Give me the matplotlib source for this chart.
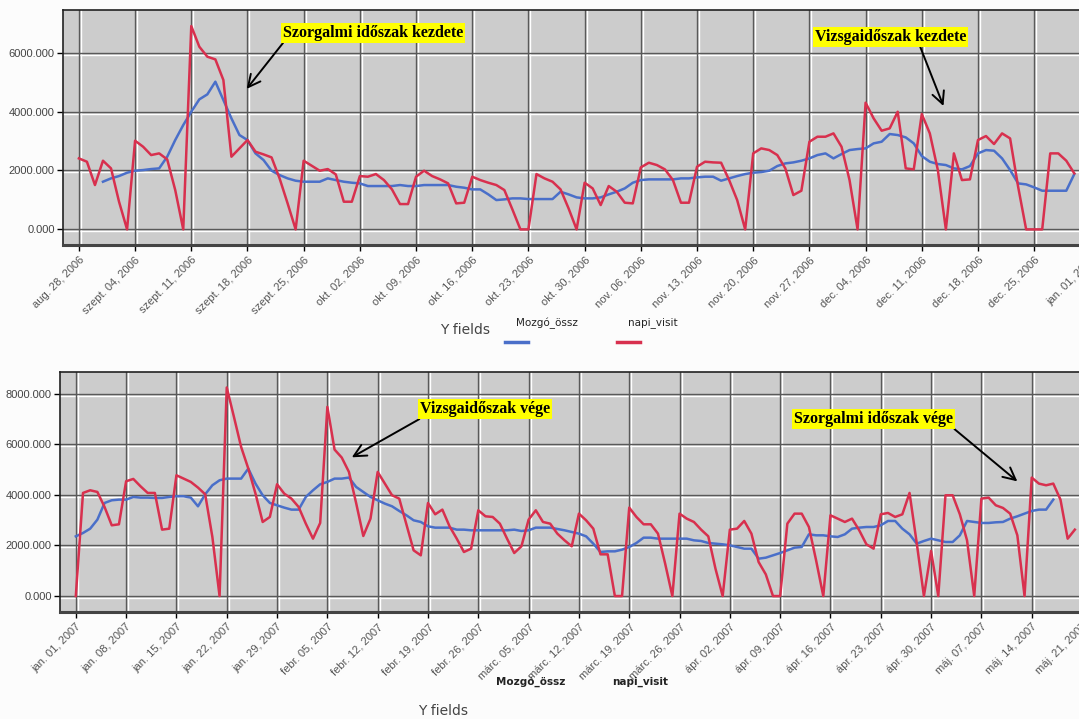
import pandas as pd
import matplotlib
matplotlib.use("Agg")
import matplotlib.pyplot as plt
import matplotlib.dates as mdates
import matplotlib.transforms as mtransforms
from matplotlib.lines import Line2D
from matplotlib.ticker import FormatStrFormatter, FixedLocator

# --- adatok: 2006 ősz ---
start_2006 = "2006-08-28"
blue_start_2006 = "2006-08-31"
napi_visit_2006 = [
    2411, 2298, 1506, 2332, 2072, 940, 0,
    3011, 2807, 2524, 2581, 2377, 1336, 0,
    6905, 6203, 5864, 5773, 5071, 2468, 2751,
    3034, 2638, 2547, 2445, 1732, 883, 0,
    2332, 2162, 1992, 2049, 1868, 940, 940,
    1811, 1789, 1879, 1675, 1358, 860, 860,
    1789, 1992, 1811, 1698, 1562, 883, 906,
    1789, 1675, 1585, 1506, 1336, 679, 0,
    0, 1879, 1732, 1619, 1358, 713, 0,
    1585, 1392, 826, 1472, 1279, 906, 883,
    2106, 2264, 2185, 2038, 1675, 906, 906,
    2128, 2298, 2275, 2264, 1675, 996, 0,
    2581, 2751, 2694, 2524, 2072, 1166, 1313,
    2977, 3147, 3147, 3260, 2807, 1675, 0,
    4302, 3770, 3351, 3430, 3996, 2072, 2038,
    3917, 3260, 2015, 0, 2581, 1675, 1698,
    3034, 3170, 2898, 3260, 3090, 1449, 0,
    0, 0, 2581, 2581, 2332, 1902,
]
mozgo_2006 = [
    1619, 1732, 1811, 1924,
    1992, 2015, 2049, 2072, 2468, 3034, 3543,
    3996, 4415, 4585, 5015, 4392, 3770, 3204,
    3034, 2581, 2355, 1992, 1845, 1732, 1653,
    1619, 1619, 1619, 1732, 1675, 1619, 1585,
    1562, 1472, 1472, 1472, 1472, 1506, 1472,
    1472, 1506, 1506, 1506, 1506, 1449, 1415,
    1358, 1358, 1189, 996, 1019, 1053, 1053,
    1030, 1030, 1030, 1030, 1279, 1189, 1087,
    1053, 1053, 1087, 1189, 1279, 1392, 1585,
    1675, 1698, 1698, 1698, 1698, 1732, 1732,
    1766, 1789, 1789, 1653, 1732, 1811, 1879,
    1924, 1947, 1992, 2151, 2241, 2275, 2332,
    2411, 2524, 2581, 2411, 2558, 2694, 2728,
    2751, 2921, 2977, 3238, 3204, 3124, 2921,
    2490, 2298, 2219, 2185, 2072, 2038, 2151,
    2581, 2694, 2672, 2411, 2015, 1562, 1528,
    1426, 1313, 1313, 1313, 1313, 1879,
]

# --- adatok: 2007 tavasz ---
start_2007 = "2007-01-01"
blue_start_2007 = "2007-01-01"
napi_visit_2007 = [
    0, 4073, 4178, 4112, 3519, 2794, 2834,
    4534, 4626, 4336, 4073, 4073, 2623, 2662,
    4771, 4639, 4508, 4284, 4020, 2333, 0,
    8238, 7078, 5891, 5035, 4046, 2926, 3124,
    4415, 4046, 3849, 3519, 2860, 2267, 2887,
    7473, 5786, 5470, 4903, 3677, 2372, 3058,
    4903, 4442, 3980, 3849, 2834, 1806, 1608,
    3677, 3229, 3414, 2755, 2267, 1740, 1872,
    3387, 3150, 3124, 2860, 2267, 1700, 1964,
    3018, 3387, 2926, 2860, 2465, 2201, 1964,
    3255, 2992, 2662, 1648, 1648, 0, 0,
    3493, 3124, 2834, 2834, 2465, 1278, 0,
    3255, 3058, 2926, 2623, 2359, 1081, 0,
    2623, 2662, 2966, 2465, 1344, 857, 0,
    0, 2860, 3255, 3255, 2728, 1410, 0,
    3190, 3058, 2926, 3058, 2597, 2043, 1872,
    3229, 3282, 3124, 3229, 4073, 2096, 0,
    1780, 0, 3980, 3980, 3229, 2201, 0,
    3849, 3888, 3585, 3480, 3255, 2399, 0,
    4679, 4442, 4376, 4442, 3809, 2267, 2623,
]
mozgo_2007 = [
    2359, 2491, 2662, 3018, 3677, 3783, 3809,
    3809, 3914, 3888, 3888, 3875, 3875, 3914,
    3941, 3941, 3888, 3545, 4020, 4376, 4573,
    4639, 4639, 4639, 5035, 4442, 3980, 3677,
    3585, 3493, 3414, 3414, 3914, 4178, 4415,
    4508, 4639, 4639, 4679, 4310, 4112, 3914,
    3783, 3651, 3545, 3361, 3190, 2992, 2926,
    2755, 2702, 2702, 2702, 2623, 2623, 2597,
    2597, 2597, 2597, 2597, 2597, 2623, 2570,
    2597, 2702, 2702, 2702, 2649, 2597, 2531,
    2465, 2359, 2069, 1740, 1766, 1766, 1832,
    1938, 2096, 2306, 2306, 2267, 2267, 2267,
    2267, 2267, 2201, 2175, 2096, 2069, 2043,
    2003, 1938, 1872, 1872, 1476, 1516, 1608,
    1700, 1806, 1911, 1938, 2438, 2399, 2399,
    2359, 2333, 2438, 2662, 2702, 2728, 2728,
    2794, 2966, 2966, 2662, 2438, 2069, 2175,
    2267, 2201, 2135, 2135, 2399, 2966, 2926,
    2887, 2887, 2913, 2926, 3058, 3150, 3255,
    3361, 3414, 3414, 3809,
]

honapok = {1: "jan.", 2: "febr.", 3: "márc.", 4: "ápr.", 5: "máj.",
           8: "aug.", 9: "szept.", 10: "okt.", 11: "nov.", 12: "dec."}

BLUE = "#4a6fc9"
RED = "#d8304e"
BG = "#cccccc"
TICK_FONT = ["Liberation Sans", "DejaVu Sans"]


def hu_date(x, pos=None):
    d = mdates.num2date(x)
    return f"{honapok[d.month]} {d.day:02d}, {d.year}"


def draw_panel(ax, start, blue_start, red, blue, xlim_days, ylim, yticks):
    t0 = pd.Timestamp(start)
    red_dates = pd.date_range(start, periods=len(red), freq="D")
    blue_dates = pd.date_range(blue_start, periods=len(blue), freq="D")
    ax.set_facecolor(BG)
    ax.plot(blue_dates, blue, color=BLUE, lw=1.8, zorder=3)
    ax.plot(red_dates, red, color=RED, lw=1.8, zorder=4)
    ax.set_xlim(t0 + pd.Timedelta(days=xlim_days[0]), t0 + pd.Timedelta(days=xlim_days[1]))
    ax.set_ylim(*ylim)
    ax.xaxis.set_major_locator(mdates.WeekdayLocator(byweekday=mdates.MO))
    ax.xaxis.set_major_formatter(plt.FuncFormatter(hu_date))
    ax.yaxis.set_major_locator(FixedLocator(yticks))
    ax.yaxis.set_major_formatter(FormatStrFormatter("%.3f"))
    ax.tick_params(axis="x", labelsize=8, labelcolor="#555555", length=4, width=1, pad=3)
    ax.tick_params(axis="y", labelsize=8, labelcolor="#444444", length=4, width=1, pad=2)
    for lab in ax.get_xticklabels():
        lab.set_rotation(45)
        lab.set_ha("right")
        lab.set_rotation_mode("anchor")
        lab.set_family(TICK_FONT)
    for lab in ax.get_yticklabels():
        lab.set_family(TICK_FONT)
    # beveled grid: dark line with a white line next to it
    fig = ax.figure
    off_x = mtransforms.ScaledTranslation(2 / 100, 0, fig.dpi_scale_trans)
    off_y = mtransforms.ScaledTranslation(0, -2 / 100, fig.dpi_scale_trans)
    for xt in ax.get_xticks():
        ax.axvline(xt, color="#595959", lw=1, zorder=1)
        w = ax.axvline(xt, color="white", lw=1, zorder=0.9)
        w.set_transform(w.get_transform() + off_x)
    for yt in yticks:
        ax.axhline(yt, color="#595959", lw=1, zorder=1)
        w = ax.axhline(yt, color="white", lw=1, zorder=0.9)
        w.set_transform(w.get_transform() + off_y)
    for s in ax.spines.values():
        s.set_color("#222222")
        s.set_linewidth(1.2)
    ax.spines["bottom"].set_linewidth(2.2)
    ax.spines["bottom"].set_color("#444444")


fig = plt.figure(figsize=(10.79, 7.19), dpi=100, facecolor="#fcfcfc")
W, H = 1079, 719

ax1 = fig.add_axes([63 / W, 1 - 245 / H, (1100 - 63) / W, 235 / H])
draw_panel(ax1, start_2006, blue_start_2006, napi_visit_2006, mozgo_2006,
           (-1.98, 127.2), (-530, 7450), [0, 2000, 4000, 6000])

ax2 = fig.add_axes([60 / W, 1 - 612 / H, (1100 - 60) / W, 240 / H])
draw_panel(ax2, start_2007, blue_start_2007, napi_visit_2007, mozgo_2007,
           (-2.2, 142.5), (-630, 8850), [0, 2000, 4000, 6000, 8000])

note_font = dict(family=["Liberation Serif", "DejaVu Serif"], fontweight="bold",
                 fontsize=11.5, color="black")
box = dict(boxstyle="square,pad=0.12", facecolor="#ffff00", edgecolor="none")


def note(ax, text, start, xy, xytext, relpos):
    t0 = pd.Timestamp(start)
    p = (mdates.date2num(t0 + pd.Timedelta(days=xy[0])), xy[1])
    q = (mdates.date2num(t0 + pd.Timedelta(days=xytext[0])), xytext[1])
    ax.annotate(text, xy=p, xytext=q, ha="left", va="center", bbox=box,
                arrowprops=dict(arrowstyle="->", color="black", lw=1.4,
                                shrinkA=0, shrinkB=0, relpos=relpos,
                                mutation_scale=22),
                zorder=6, **note_font)


note(ax1, "Szorgalmi időszak kezdete", start_2006, (20.9, 4770), (25.4, 6670), (0.01, 0))
note(ax1, "Vizsgaidőszak kezdete", start_2006, (107.7, 4190), (91.7, 6534), (0.69, 0))
note(ax2, "Vizsgaidőszak vége", start_2007, (38.4, 5480), (47.9, 7380), (0.02, 0))
note(ax2, "Szorgalmi időszak vége", start_2007, (131.0, 4530), (99.9, 6985), (0.99, 0.05))

# legends (custom layout: label above swatch)
leg_font = ["Liberation Sans Narrow", "DejaVu Sans"]
fig.text(440 / W, 1 - 330 / H, "Y fields", fontsize=10, color="#444444",
         ha="left", va="center", family=leg_font)
fig.text(516 / W, 1 - 323 / H, "Mozgó_össz", fontsize=7.5, color="#222222",
         ha="left", va="center", family=leg_font)
fig.text(628 / W, 1 - 323 / H, "napi_visit", fontsize=7.5, color="#222222",
         ha="left", va="center", family=leg_font)
fig.add_artist(Line2D([505 / W, 528 / W], [1 - 342 / H] * 2, color=BLUE, lw=2.5))
fig.add_artist(Line2D([617 / W, 640 / W], [1 - 342 / H] * 2, color=RED, lw=2.5))

fig.text(418 / W, 1 - 711 / H, "Y fields", fontsize=10, color="#444444",
         ha="left", va="center", family=leg_font)
fig.text(496 / W, 1 - 682 / H, "Mozgó_össz", fontsize=7.5, color="#222222",
         ha="left", va="center", family=leg_font, fontweight="bold")
fig.text(612 / W, 1 - 682 / H, "napi_visit", fontsize=7.5, color="#222222",
         ha="left", va="center", family=leg_font, fontweight="bold")

fig.savefig("out.png", dpi=100, facecolor=fig.get_facecolor())
